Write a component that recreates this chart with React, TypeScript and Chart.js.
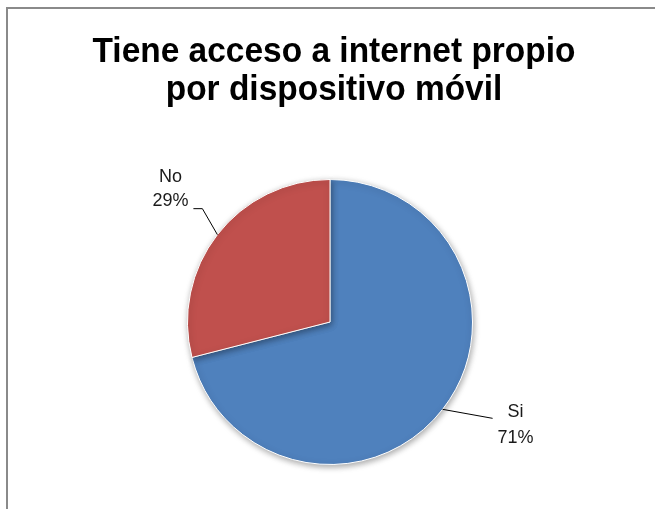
import React, { useEffect, useRef } from "react";
import { Chart, registerables } from "chart.js";

Chart.register(...registerables);

const titleLines = ["Tiene acceso a internet propio", "por dispositivo móvil"];
const categories = ["Si", "No"];
const values = [71, 29];
const percentLabels = ["71%", "29%"];
const sliceColors = ["#4F81BD", "#C0504D"];

const titlePlugin = {
  id: "excelTitle",
  afterDraw(chart: any) {
    const ctx = chart.ctx;
    ctx.save();
    ctx.font = "bold 35px 'Liberation Sans Narrow', 'Liberation Sans', Arial, sans-serif";
    ctx.fillStyle = "#000";
    ctx.textAlign = "center";
    ctx.textBaseline = "alphabetic";
    const w0 = ctx.measureText(titleLines[0]).width;
    const sx = 483 / w0;
    const cx = 326;
    const baselines = [53, 91];
    titleLines.forEach((t, i) => {
      ctx.save();
      ctx.translate(cx, baselines[i]);
      ctx.scale(sx, 1);
      ctx.fillText(t, 0, 0);
      ctx.restore();
    });
    ctx.restore();
  },
};

const shadowPlugin = {
  id: "pieShadow",
  beforeDatasetsDraw(chart: any) {
    const ctx = chart.ctx;
    ctx.save();
    ctx.shadowColor = "rgba(0,0,0,0.35)";
    ctx.shadowBlur = 6;
    ctx.shadowOffsetX = 1;
    ctx.shadowOffsetY = 2;
  },
  afterDatasetsDraw(chart: any) {
    chart.ctx.restore();
  },
};

// label layout styles: elbow offset from slice edge midpoint, then horizontal run
const labelStyles = [
  { elbow: [50, 9], run: 0, align: "left", textDx: 5, lineY: [-6, 20] },
  { elbow: [-15, -26], run: -9, align: "right", textDx: -5, lineY: [-32, -8] },
];

const labelPlugin = {
  id: "leaderLabels",
  afterDraw(chart: any) {
    const ctx = chart.ctx;
    const meta = chart.getDatasetMeta(0);
    ctx.save();
    meta.data.forEach((arc: any, i: number) => {
      const { x, y, startAngle, endAngle, outerRadius } = arc.getProps(
        ["x", "y", "startAngle", "endAngle", "outerRadius"],
        true
      );
      const mid = (startAngle + endAngle) / 2;
      const ex = x + Math.cos(mid) * outerRadius;
      const ey = y + Math.sin(mid) * outerRadius;
      const st = labelStyles[i];
      const bx = ex + st.elbow[0];
      const by = ey + st.elbow[1];
      const fx = bx + st.run;
      ctx.strokeStyle = "#000";
      ctx.lineWidth = 1;
      ctx.beginPath();
      ctx.moveTo(ex, ey);
      ctx.lineTo(bx, by);
      if (st.run !== 0) ctx.lineTo(fx, by);
      ctx.stroke();
      ctx.fillStyle = "#1a1a1a";
      ctx.font = "18px 'Liberation Sans', Arial, sans-serif";
      ctx.textBaseline = "middle";
      ctx.textAlign = "center";
      const tx = fx + st.textDx;
      const w = ctx.measureText(percentLabels[i]).width;
      const c = st.align === "left" ? tx + w / 2 : tx - w / 2;
      ctx.fillText(categories[i], c, by + st.lineY[0]);
      ctx.fillText(percentLabels[i], c, by + st.lineY[1]);
    });
    ctx.restore();
  },
};

export default function App() {
  const ref = useRef<HTMLCanvasElement>(null);
  useEffect(() => {
    const chart = new Chart(ref.current as HTMLCanvasElement, {
      type: "pie",
      data: {
        labels: categories,
        datasets: [
          {
            data: values,
            backgroundColor: sliceColors,
            borderColor: "#ffffff",
            borderWidth: 1,
          },
        ],
      },
      options: {
        responsive: false,
        animation: false,
        layout: { padding: { left: 179, right: 182, top: 170, bottom: 44 } },
        plugins: {
          legend: { display: false },
          title: { display: false },
          tooltip: { enabled: false },
        },
      },
      plugins: [shadowPlugin, titlePlugin, labelPlugin],
    } as any);
    return () => chart.destroy();
  }, []);
  return (
    <div
      style={{
        position: "fixed",
        left: 6,
        top: 7,
        width: 649,
        height: 502,
        borderTop: "2px solid #8a8a8a",
        borderLeft: "2px solid #8a8a8a",
        background: "#fff",
      }}
    >
      <canvas ref={ref} width={647} height={500} style={{ display: "block" }} />
    </div>
  );
}
